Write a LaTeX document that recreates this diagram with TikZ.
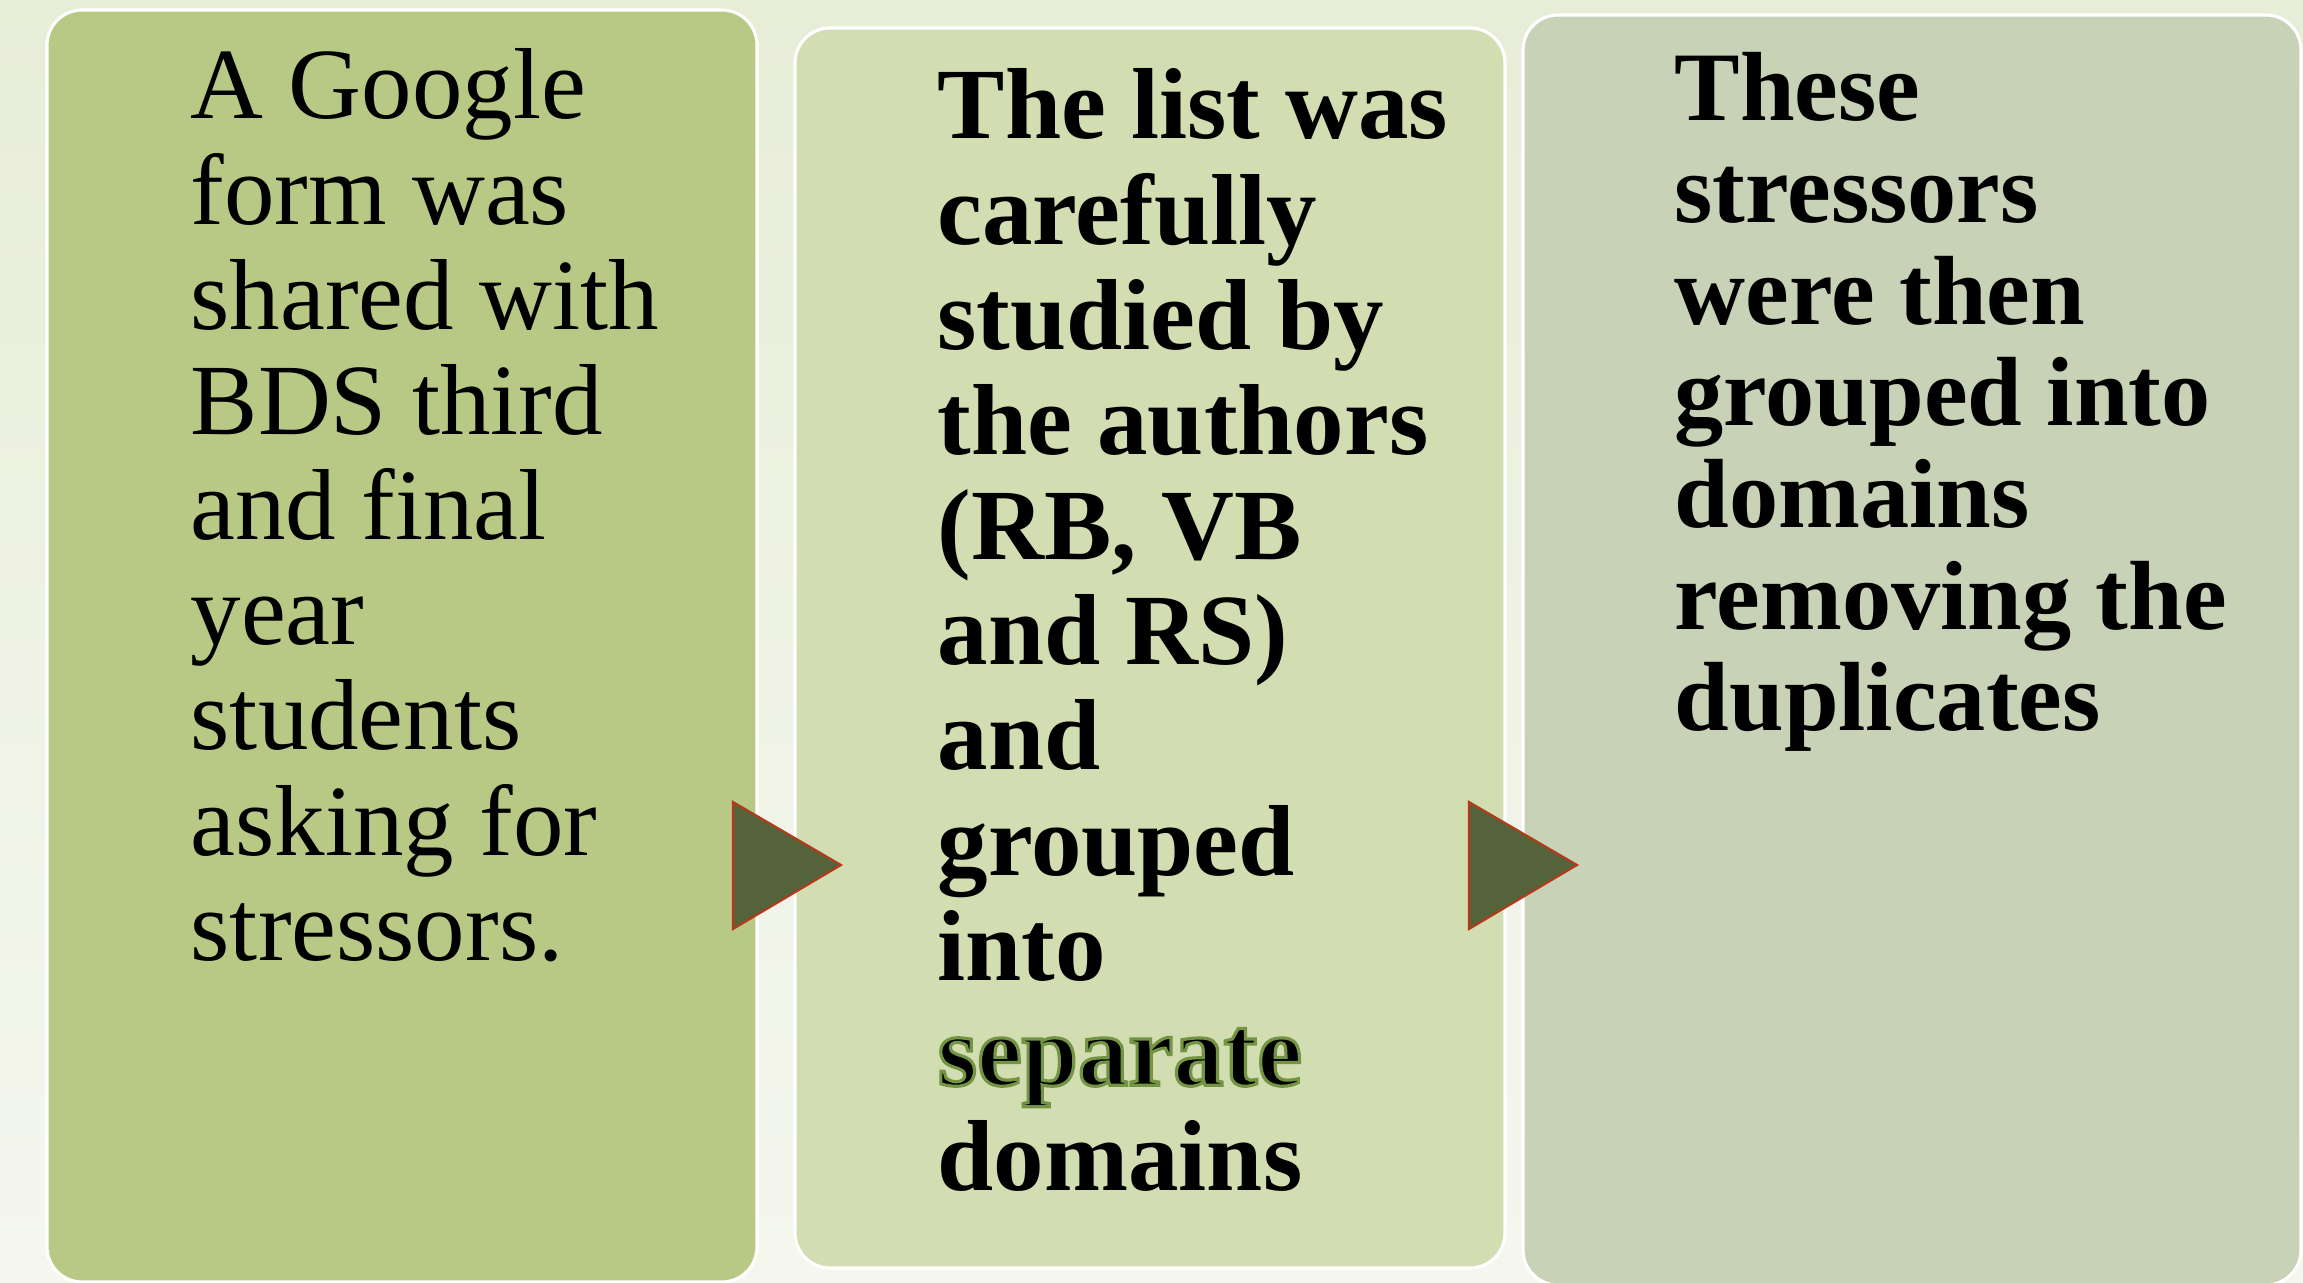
\documentclass[tikz,border=0pt]{standalone}
\usepackage{fontspec}
\setmainfont{Liberation Serif}
\definecolor{bgtop}{RGB}{232,237,216}
\definecolor{bgbottom}{RGB}{245,247,239}
\definecolor{boxone}{RGB}{184,201,134}
\definecolor{boxtwo}{RGB}{210,221,178}
\definecolor{boxthree}{RGB}{200,210,182}
\definecolor{darkolive}{RGB}{85,99,58}
\definecolor{rust}{RGB}{180,58,28}
\newcommand{\bigtext}{\fontsize{28.7pt}{29.9pt}\selectfont}
\newcommand{\smalltext}{\fontsize{27.95pt}{28.9pt}\selectfont}
% green rim round one word
\newcommand{\greenrim}[1]{\special{pdf:literal direct 2 Tr 0.9 w 0.45 0.58 0.26 RG}#1\special{pdf:literal direct 0 Tr}}

\begin{document}
\begin{tikzpicture}[x=0.01cm, y=-0.01cm,
  panel/.style={draw=white, line width=0.9pt, rounded corners=0.35cm},
  body/.style={anchor=base west, inner sep=0pt, text width=6cm, align=flush left},
  pointer/.style={fill=darkolive, draw=rust, line width=0.6pt}]

  %Background
  \shade[top color=bgtop, bottom color=bgbottom] (0,0) rectangle (2303,1283);
  \useasboundingbox (0,0) rectangle (2303,1283);

  %Three steps
  \draw[panel, fill=boxone] (47,10) rectangle (757,1282);
  \draw[panel, fill=boxtwo] (795,28) rectangle (1505,1268);
  \draw[panel, fill=boxthree] (1523,15) rectangle (2301,1285);

  \draw[]
   (190,119) node[body, font=\bigtext](1)
     {A Google\\form was\\shared with\\BDS third\\and final\\year\\students\\asking for\\stressors.}
   (937,139) node[body, font=\bigtext\bfseries](2)
     {The list was\\carefully\\studied by\\the authors\\(RB, VB\\and RS)\\and\\grouped\\into\\\greenrim{separate}\\domains}
   (1674,121) node[body, font=\smalltext\bfseries](3)
     {These\\stressors\\were then\\grouped into\\domains\\removing the\\duplicates};

  %Pointers
  \draw[pointer] (733,802) -- (841,865) -- (733,929) -- cycle;
  \draw[pointer] (1469,802) -- (1577,865) -- (1469,929) -- cycle;
\end{tikzpicture}
\end{document}
